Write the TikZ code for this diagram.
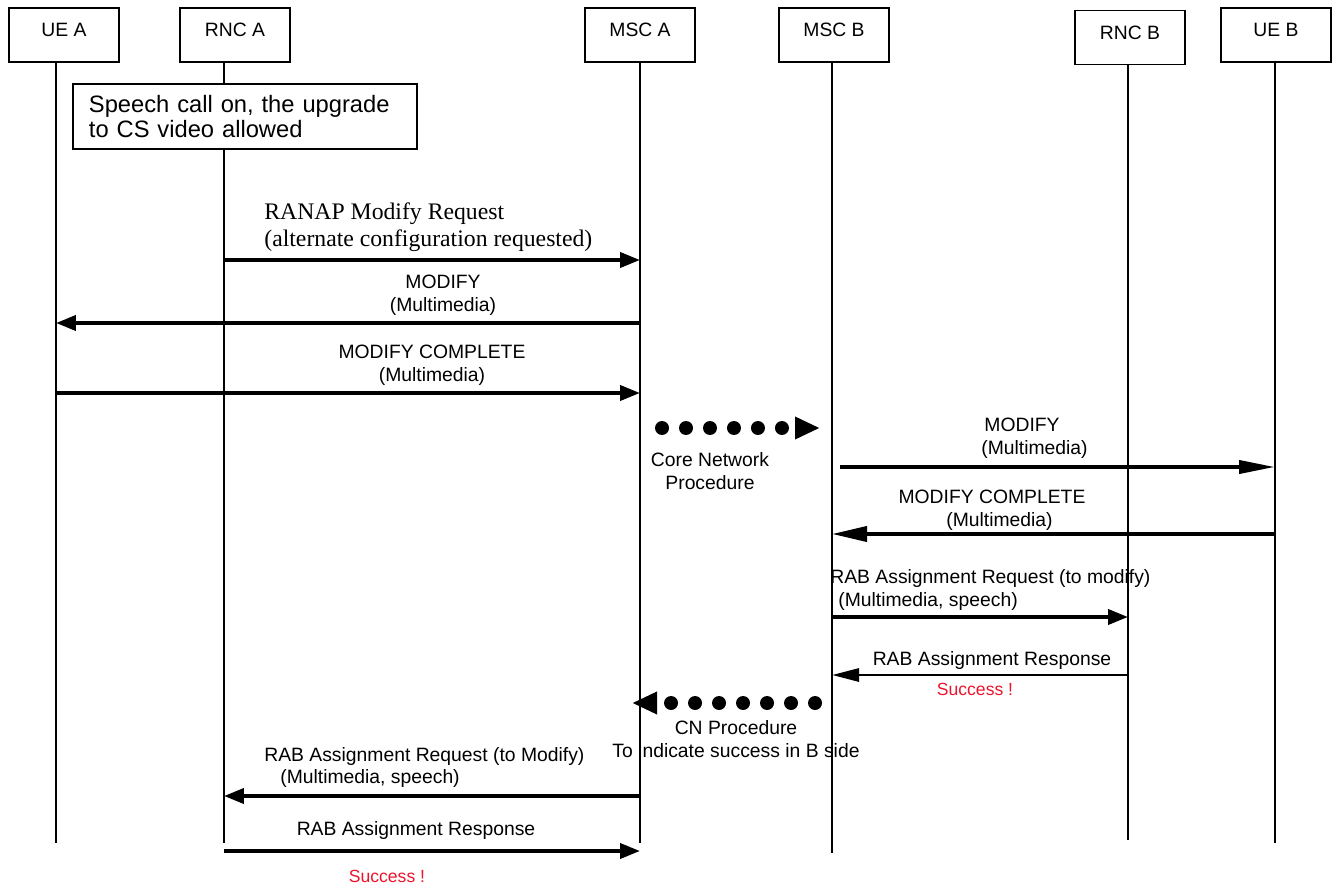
\documentclass[tikz,border=0pt]{standalone}
\usepackage{fontspec}
\setmainfont{Liberation Sans}
\newfontfamily\tnr{Liberation Serif}
\usetikzlibrary{arrows.meta}
\definecolor{okred}{RGB}{235,20,45}
\begin{document}
\begin{tikzpicture}[x=0.02cm,y=-0.02cm]
	\tikzset{ent/.style={draw,line width=1pt,minimum width=2.2cm,minimum height=1.08cm,text depth=0.2cm,font=\fontsize{11}{13}\selectfont},
		life/.style={line width=1.1pt},
		msg/.style={line width=2.2pt,-{Triangle[length=0.4cm,width=0.3cm]}},
		lbl/.style={font=\fontsize{11}{13}\selectfont,align=center,inner sep=0pt},
		dots/.style={line width=0.28cm,line cap=round,dash pattern=on 0pt off 0.48cm,-{Triangle[length=0.5cm,width=0.42cm]}},
		ok/.style={text=okred,font=\fontsize{10}{12}\selectfont,inner sep=0pt}}
	\useasboundingbox(0,0)rectangle(1335,885);
	%% entities and lifelines
	\path(64,35)node[ent](ueA){UE A}
		(235,35)node[ent](rncA){RNC A}
		(640,35)node[ent](mscA){MSC A}
		(834,35)node[ent](mscB){MSC B}
		(1130,37.5)node[ent](rncB){RNC B}
		(1276,35)node[ent](ueB){UE B};
	\path(56,843)coordinate(eueA)(224,843)coordinate(erncA)(640,843)coordinate(emscA)
		(832,853)coordinate(emscB)(1128,840)coordinate(erncB)(1275,843)coordinate(eueB);
	\foreach \x in {ueA,rncA,mscA,mscB,rncB,ueB}
	\draw[life](e\x|-\x.south)--(e\x);
	\node[draw,line width=1.1pt,fill=white,anchor=north west,minimum width=6.88cm,minimum height=1.3cm,
		inner xsep=0.32cm,text width=6.24cm,align=left,font=\fontsize{13.5}{14.7}\selectfont](note)at(72,83)
		{Speech call on, the upgrade\\to CS video allowed};
	%% messages
	\foreach \x/\w/\y in {
		rncA/mscA/260,mscA/ueA/323,ueA/mscA/393,
		mscB/rncB/617,
		mscA/rncA/796,rncA/mscA/851}
	\draw[msg](e\x|-0,\y)--(e\w|-0,\y);
	\draw[msg,-{Triangle[length=0.72cm,width=0.26cm]},shorten <=0.16cm](emscB|-0,467)--(eueB|-0,467);
	\draw[msg,-{Triangle[length=0.7cm,width=0.3cm]}](eueB|-0,534)--(emscB|-0,534);
	\draw[msg,line width=1.7pt,-{Triangle[length=0.54cm,width=0.26cm]}](erncB|-0,675)--(emscB|-0,675);
	\path(662,428)coordinate(cn1a)(820,428)coordinate(cn1b)(815,703)coordinate(cn2a)(632,703)coordinate(cn2b);
	\draw[dots](cn1a)--(cn1b);
	\draw[dots](cn2a)--(cn2b);
	%% labels
	\node[lbl,font=\tnr\fontsize{13.5}{15.3}\selectfont,align=left,anchor=west](t1)at(264,227.5)
		{RANAP Modify Request\\(alternate configuration requested)};
	\node[lbl](t2)at(443,295.5){MODIFY\\(Multimedia)};
	\node[lbl](t3)at(432,365){MODIFY COMPLETE\\(Multimedia)};
	\node[lbl](t4)at(710,471){Core Network\\Procedure};
	\node[lbl](t5)at(1022,438.5){MODIFY\\\hspace*{0.5cm}(Multimedia)};
	\node[lbl](t6)at(992,510.5){MODIFY COMPLETE\\\hspace*{0.3cm}(Multimedia)};
	\node[lbl,align=left,anchor=west](t7)at(830,590){RAB Assignment Request (to modify)\\\hspace*{0.16cm}(Multimedia, speech)};
	\node[lbl](t8)at(992,660){RAB Assignment Response};
	\node[ok](s8)at(975,689){Success !};
	\node[lbl](t9)at(736,739){CN Procedure\\To indicate success in B side};
	\node[lbl,align=left,anchor=west](t10)at(264,767.5){RAB Assignment Request (to Modify)\\\hspace*{0.32cm}(Multimedia, speech)};
	\node[lbl](t11)at(416,830){RAB Assignment Response};
	\node[ok](s11)at(387,876){Success !};
\end{tikzpicture}
\end{document}
